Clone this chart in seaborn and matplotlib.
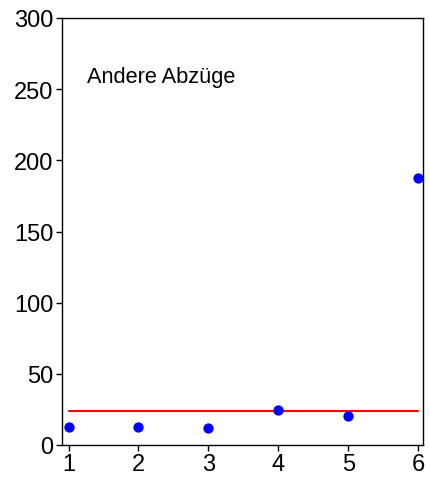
import numpy as np
import pandas as pd
import matplotlib
matplotlib.use("Agg")
import matplotlib.pyplot as plt
import seaborn as sns

# values
periods = [1, 2, 3, 4, 5, 6]
abzuege = [12.4, 12.4, 11.7, 24.8, 20.6, 187.6]
ref_level = [23.7, 23.7, 23.7, 23.7, 23.7, 23.7]
y_ticks = [0, 50, 100, 150, 200, 250, 300]
label = "Andere Abzüge"

df = pd.DataFrame({"x": periods, "y": abzuege, "ref": ref_level})

sns.set_style("white")
plt.rcParams["font.family"] = ["Liberation Sans", "DejaVu Sans"]
plt.rcParams["text.color"] = "black"

fig = plt.figure(figsize=(4.31, 4.81), dpi=100)
ax = fig.add_axes([62 / 431, 1 - 446 / 481, (423 - 62) / 431, (446 - 19) / 481])

sns.lineplot(data=df, x="x", y="ref", color="red", linewidth=1.5, ax=ax)
sns.scatterplot(data=df, x="x", y="y", color="blue", s=55, edgecolor="blue",
                linewidth=0, ax=ax, zorder=3)

ax.set_xlim(0.907, 6.07)
ax.set_ylim(0, 300)
ax.set_xticks(periods)
ax.set_yticks(y_ticks)
ax.set_xlabel("")
ax.set_ylabel("")
ax.tick_params(axis="both", direction="out", length=4, width=1, labelsize=17,
               colors="black", pad=2, bottom=True, left=True)
for sp in ax.spines.values():
    sp.set_color("black")
    sp.set_linewidth(1)

ax.text(0.07, 0.862, label, transform=ax.transAxes, fontsize=15.7,
        va="center", ha="left", color="black")

fig.savefig("out.png", dpi=100)
